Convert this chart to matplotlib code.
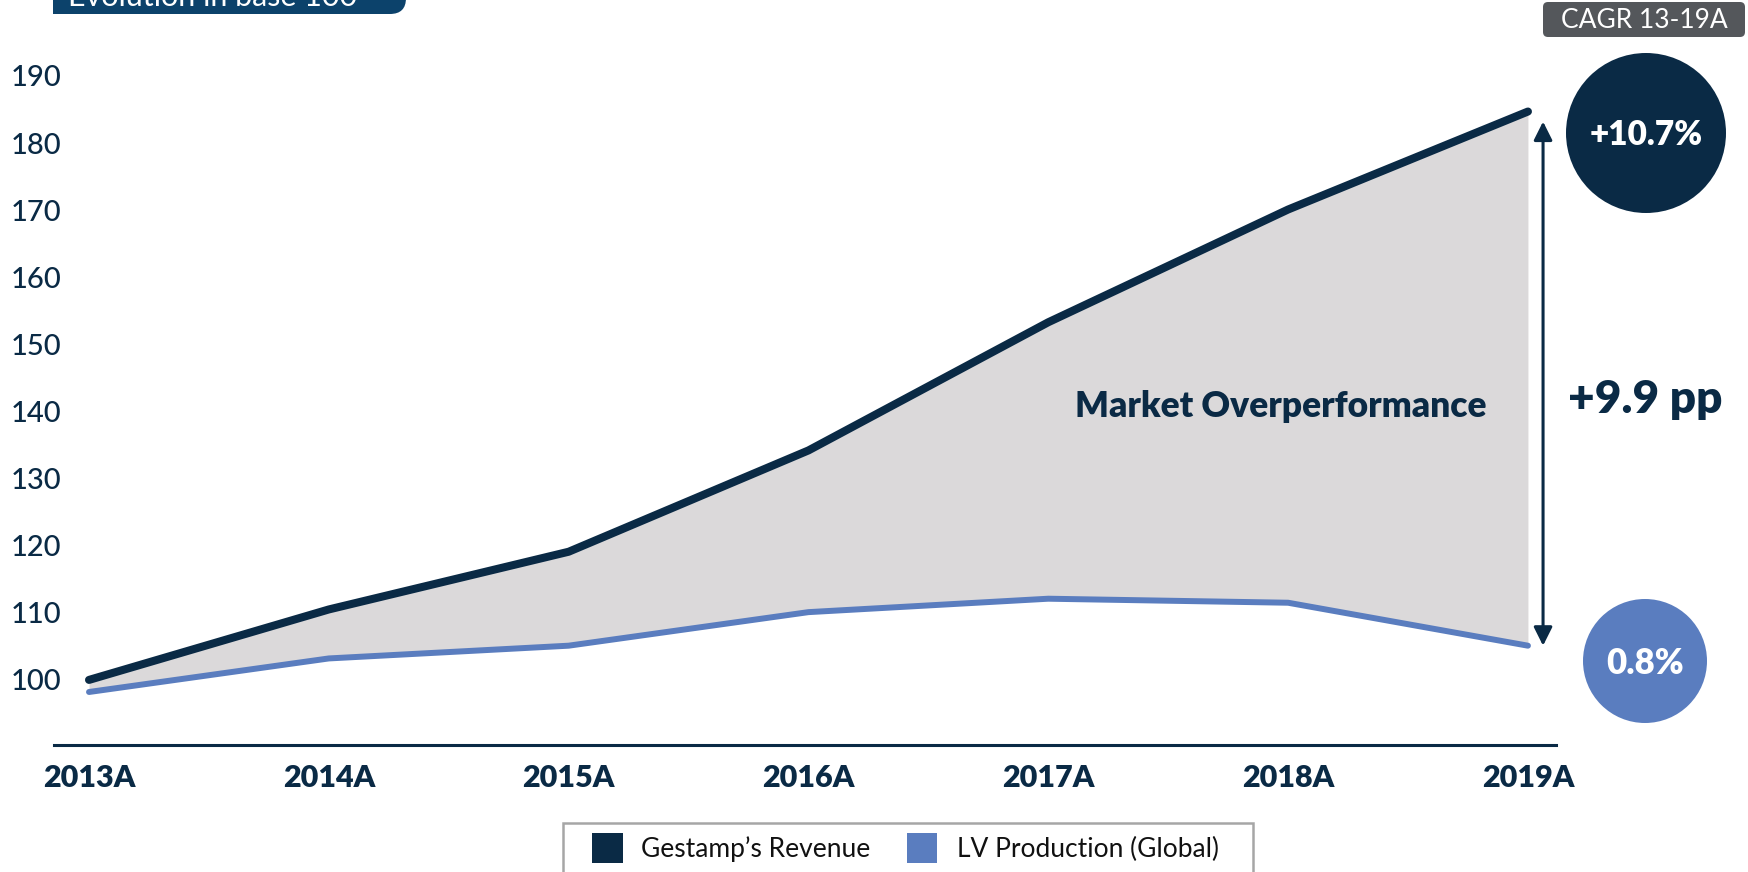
import numpy as np
import matplotlib
matplotlib.use("Agg")
import matplotlib.pyplot as plt
from matplotlib.patches import Circle, FancyBboxPatch, Rectangle

# ── data (base 100) ───────────────────────────────────────────────────────────
YEARS       = ["2013A", "2014A", "2015A", "2016A", "2017A", "2018A", "2019A"]
REVENUE     = [100.0, 110.5, 119.1, 134.2, 153.3, 170.1, 184.7]
LV_PROD     = [98.2, 103.2, 105.1, 110.1, 112.1, 111.5, 105.1]
Y_TICKS     = list(range(100, 200, 10))
CAGR_REV    = "+10.7%"
CAGR_LV     = "0.8%"
GAP_LABEL   = "+9.9 pp"

# ── style ─────────────────────────────────────────────────────────────────────
NAVY   = "#0a2a45"
BLUE   = "#5a7dbf"
FILL   = "#dbd9da"
HEADER = "#0c426b"
GREY   = "#54575b"

plt.rcParams["font.family"] = ["Lato", "DejaVu Sans"]

W, H, DPI = 1749, 872, 100
fig = plt.figure(figsize=(W / DPI, H / DPI), dpi=DPI)

# main axes: pixel-tuned placement
ax = fig.add_axes([54 / W, 1 - 745 / H, (1556 - 54) / W, (745 - 35.7) / H])
x = np.arange(len(YEARS))

ax.fill_between(x, LV_PROD, REVENUE, color=FILL, lw=0, zorder=1)
ax.plot(x, LV_PROD, color=BLUE, lw=4.3, solid_capstyle="round",
        solid_joinstyle="round", zorder=3)
ax.plot(x, REVENUE, color=NAVY, lw=5.8, solid_capstyle="round",
        solid_joinstyle="round", zorder=4)

ax.set_xlim(-0.146, 6.117)
ax.set_ylim(90.3, 196)
for s in ["top", "right", "left"]:
    ax.spines[s].set_visible(False)
ax.spines["bottom"].set_color(NAVY)
ax.spines["bottom"].set_linewidth(2.2)

ax.set_xticks(x)
ax.set_xticklabels(YEARS, fontsize=22, fontweight="heavy", color=NAVY)
ax.tick_params(axis="x", length=0, pad=14)
ax.set_yticks(Y_TICKS)
ax.set_yticklabels([str(t) for t in Y_TICKS], fontsize=21, fontweight="medium",
                   color=NAVY, ha="left")
ax.tick_params(axis="y", length=0, pad=31)

# double arrow between the two 2019 end points
xa = x[-1] + 0.063
ax.annotate("", xy=(xa, REVENUE[-1] - 1.5), xytext=(xa, LV_PROD[-1]),
            arrowprops=dict(arrowstyle="<|-|>", color=NAVY, lw=2.2,
                            mutation_scale=28, shrinkA=0, shrinkB=0))

ax.text(4.97, 140.8, "Market Overperformance", fontsize=25.5, fontweight="heavy",
        color=NAVY, ha="center", va="center", zorder=5)

# ── overlay in pixel units for boxes, circles, legend ─────────────────────────
ov = fig.add_axes([0, 0, 1, 1], zorder=10)
ov.set_xlim(0, W); ov.set_ylim(H, 0); ov.axis("off")
ov.patch.set_alpha(0)

# header tab (cut off at top, as in the source slide)
ov.add_patch(FancyBboxPatch((53, -40), 353, 54,
                            boxstyle="round,pad=0,rounding_size=16",
                            fc=HEADER, ec="none"))
ov.add_patch(Rectangle((53, -40), 200, 54, fc=HEADER, ec="none"))
ov.text(68, 6, "Evolution in base 100", fontsize=22, color="white",
        ha="left", va="baseline")

# CAGR label box
ov.add_patch(FancyBboxPatch((1543, 2), 202, 35,
                            boxstyle="round,pad=0,rounding_size=5",
                            fc=GREY, ec="none"))
ov.text(1644, 20, "CAGR 13-19A", fontsize=19, color="white",
        ha="center", va="center")

ov.add_patch(Circle((1646, 133), 80, fc=NAVY, ec="none"))
ov.text(1646, 135, CAGR_REV, fontsize=24, fontweight="heavy", color="white",
        ha="center", va="center")
ov.add_patch(Circle((1645, 661), 62, fc=BLUE, ec="none"))
ov.text(1645, 663, CAGR_LV, fontsize=25, fontweight="heavy", color="white",
        ha="center", va="center")

ov.text(1645, 399, GAP_LABEL, fontsize=33, fontweight="heavy", color=NAVY,
        ha="center", va="center")

# legend (frame runs off the bottom edge)
ov.add_patch(Rectangle((563, 823), 690, 70, fc="white", ec="#a6a6a6", lw=1.8))
ov.add_patch(Rectangle((592, 833), 31, 30, fc=NAVY, ec="none"))
ov.text(641, 849, "Gestamp\u2019s Revenue", fontsize=19, color="#111111",
        ha="left", va="center")
ov.add_patch(Rectangle((907, 833), 30, 30, fc=BLUE, ec="none"))
ov.text(957, 849, "LV Production (Global)", fontsize=19, color="#111111",
        ha="left", va="center")

fig.savefig("out.png", dpi=DPI)
